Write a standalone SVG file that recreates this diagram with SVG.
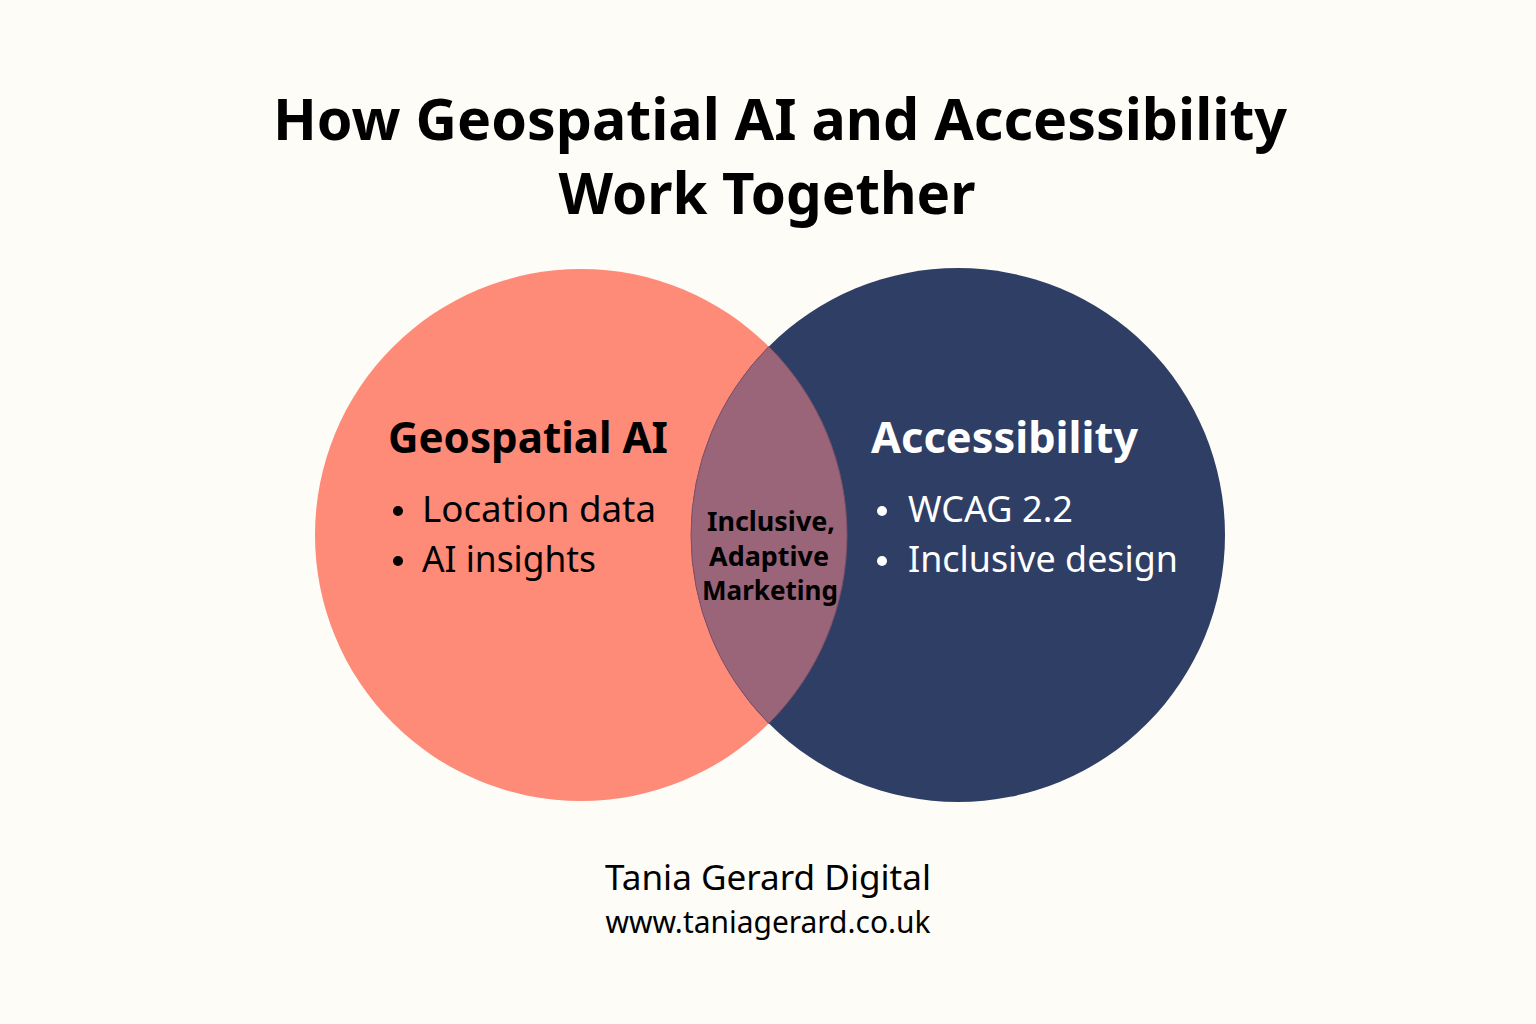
<svg xmlns="http://www.w3.org/2000/svg" width="1536" height="1024" viewBox="0 0 1536 1024">
<style>
.title{font-family:"Noto Sans","Open Sans",sans-serif;font-weight:700;font-size:58px;fill:#000;text-anchor:middle}
.head{font-family:"Noto Sans","Open Sans",sans-serif;font-weight:700;font-size:43px}
.item{font-family:"Noto Sans","Open Sans",sans-serif;font-size:37px}
.mid{font-family:"Noto Sans","Open Sans",sans-serif;font-weight:700;font-size:26px;fill:#000;text-anchor:middle}
.foot{font-family:"Noto Sans","Open Sans",sans-serif;fill:#000;text-anchor:middle}
</style>
<rect width="1536" height="1024" fill="#fdfcf7"/>
<g id="title">
<text class="title" x="780" y="140" textLength="1014" lengthAdjust="spacingAndGlyphs">How Geospatial AI and Accessibility</text>
<text class="title" x="767" y="214" textLength="417" lengthAdjust="spacingAndGlyphs">Work Together</text>
</g>
<g id="geospatial">
<circle cx="581" cy="535" r="266" fill="#fe8a78"/>
</g>
<g id="accessibility">
<circle cx="958" cy="535" r="267" fill="#2f3e65"/>
</g>
<g id="overlap">
<path d="M768.8 346.6 A266 266 0 0 1 768.8 723.4 A267 267 0 0 1 768.8 346.6 Z" fill="#9a6479" stroke="#7e5068" stroke-width="1"/>
</g>
<g id="geospatial-text">
<text class="head" x="388" y="453" fill="#000" textLength="280" lengthAdjust="spacingAndGlyphs">Geospatial AI</text>
<circle cx="398" cy="511" r="5" fill="#000"/>
<text class="item" x="422" y="522" fill="#000" textLength="234" lengthAdjust="spacingAndGlyphs">Location data</text>
<circle cx="398" cy="561" r="5" fill="#000"/>
<text class="item" x="422" y="572" fill="#000" textLength="174" lengthAdjust="spacingAndGlyphs">AI insights</text>
</g>
<g id="accessibility-text">
<text class="head" x="871" y="453" fill="#fff" textLength="267" lengthAdjust="spacingAndGlyphs">Accessibility</text>
<circle cx="882" cy="511" r="5" fill="#fff"/>
<text class="item" x="908" y="522" fill="#fff" textLength="165" lengthAdjust="spacingAndGlyphs">WCAG 2.2</text>
<circle cx="882" cy="561" r="5" fill="#fff"/>
<text class="item" x="908" y="572" fill="#fff" textLength="270" lengthAdjust="spacingAndGlyphs">Inclusive design</text>
</g>
<g id="overlap-text">
<text class="mid" x="771" y="531" textLength="128" lengthAdjust="spacingAndGlyphs">Inclusive,</text>
<text class="mid" x="769" y="566" textLength="120" lengthAdjust="spacingAndGlyphs">Adaptive</text>
<text class="mid" x="770" y="600" textLength="136" lengthAdjust="spacingAndGlyphs">Marketing</text>
</g>
<g id="connectors"></g>
<g id="footer">
<text class="foot" x="768" y="890" font-size="35" textLength="326" lengthAdjust="spacingAndGlyphs">Tania Gerard Digital</text>
<text class="foot" x="768" y="933" font-size="30" textLength="325" lengthAdjust="spacingAndGlyphs">www.taniagerard.co.uk</text>
</g>
</svg>
